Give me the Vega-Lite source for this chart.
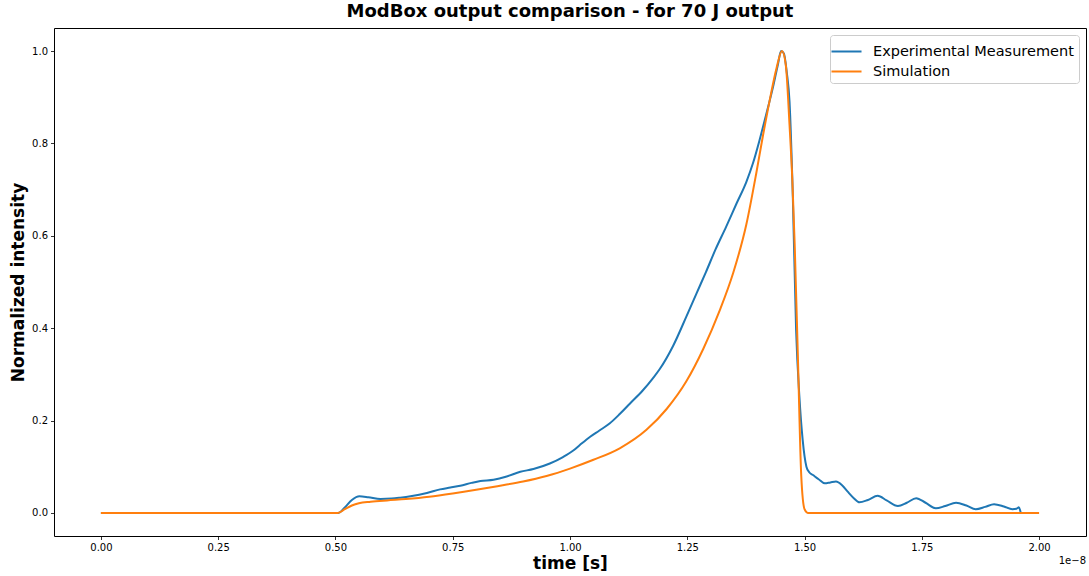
{
  "$schema": "https://vega.github.io/schema/vega-lite/v6.json",
  "width": 1032,
  "height": 508,
  "autosize": {"type": "none"},
  "padding": {"left": 54, "top": 28, "right": 3, "bottom": 40},
  "background": "white",
  "title": {
    "text": "ModBox output comparison - for 70 J output",
    "font": "DejaVu Sans",
    "fontSize": 18,
    "fontWeight": "bold",
    "color": "black",
    "anchor": "middle",
    "offset": 7
  },
  "config": {
    "view": {"stroke": "black", "strokeWidth": 1},
    "font": "DejaVu Sans",
    "axis": {
      "grid": false,
      "domain": false,
      "tickColor": "black",
      "tickSize": 3.5,
      "tickWidth": 0.8,
      "labelColor": "black",
      "labelFontSize": 10,
      "labelFont": "DejaVu Sans",
      "labelPadding": 3,
      "titleFont": "DejaVu Sans",
      "titleFontSize": 17,
      "titleFontWeight": "bold",
      "titleColor": "black"
    }
  },
  "datasets": {
    "curves": [
      {"t": 0, "v": 0, "s": "Experimental Measurement"},
      {"t": 0.5, "v": 0, "s": "Experimental Measurement"},
      {"t": 0.506, "v": 0, "s": "Experimental Measurement"},
      {"t": 0.52, "v": 0.012, "s": "Experimental Measurement"},
      {"t": 0.535, "v": 0.028, "s": "Experimental Measurement"},
      {"t": 0.551, "v": 0.036, "s": "Experimental Measurement"},
      {"t": 0.57, "v": 0.034, "s": "Experimental Measurement"},
      {"t": 0.596, "v": 0.030, "s": "Experimental Measurement"},
      {"t": 0.62, "v": 0.031, "s": "Experimental Measurement"},
      {"t": 0.638, "v": 0.033, "s": "Experimental Measurement"},
      {"t": 0.66, "v": 0.036, "s": "Experimental Measurement"},
      {"t": 0.695, "v": 0.043, "s": "Experimental Measurement"},
      {"t": 0.723, "v": 0.051, "s": "Experimental Measurement"},
      {"t": 0.745, "v": 0.055, "s": "Experimental Measurement"},
      {"t": 0.766, "v": 0.059, "s": "Experimental Measurement"},
      {"t": 0.79, "v": 0.065, "s": "Experimental Measurement"},
      {"t": 0.809, "v": 0.069, "s": "Experimental Measurement"},
      {"t": 0.837, "v": 0.072, "s": "Experimental Measurement"},
      {"t": 0.865, "v": 0.079, "s": "Experimental Measurement"},
      {"t": 0.894, "v": 0.089, "s": "Experimental Measurement"},
      {"t": 0.922, "v": 0.095, "s": "Experimental Measurement"},
      {"t": 0.957, "v": 0.107, "s": "Experimental Measurement"},
      {"t": 0.985, "v": 0.121, "s": "Experimental Measurement"},
      {"t": 1.007, "v": 0.135, "s": "Experimental Measurement"},
      {"t": 1.021, "v": 0.147, "s": "Experimental Measurement"},
      {"t": 1.043, "v": 0.165, "s": "Experimental Measurement"},
      {"t": 1.062, "v": 0.178, "s": "Experimental Measurement"},
      {"t": 1.085, "v": 0.194, "s": "Experimental Measurement"},
      {"t": 1.106, "v": 0.214, "s": "Experimental Measurement"},
      {"t": 1.128, "v": 0.237, "s": "Experimental Measurement"},
      {"t": 1.155, "v": 0.265, "s": "Experimental Measurement"},
      {"t": 1.177, "v": 0.292, "s": "Experimental Measurement"},
      {"t": 1.191, "v": 0.311, "s": "Experimental Measurement"},
      {"t": 1.22, "v": 0.362, "s": "Experimental Measurement"},
      {"t": 1.248, "v": 0.425, "s": "Experimental Measurement"},
      {"t": 1.27, "v": 0.476, "s": "Experimental Measurement"},
      {"t": 1.29, "v": 0.522, "s": "Experimental Measurement"},
      {"t": 1.31, "v": 0.570, "s": "Experimental Measurement"},
      {"t": 1.333, "v": 0.620, "s": "Experimental Measurement"},
      {"t": 1.355, "v": 0.67, "s": "Experimental Measurement"},
      {"t": 1.376, "v": 0.717, "s": "Experimental Measurement"},
      {"t": 1.39, "v": 0.757, "s": "Experimental Measurement"},
      {"t": 1.404, "v": 0.807, "s": "Experimental Measurement"},
      {"t": 1.42, "v": 0.87, "s": "Experimental Measurement"},
      {"t": 1.433, "v": 0.923, "s": "Experimental Measurement"},
      {"t": 1.443, "v": 0.97, "s": "Experimental Measurement"},
      {"t": 1.45, "v": 1.0, "s": "Experimental Measurement"},
      {"t": 1.456, "v": 0.995, "s": "Experimental Measurement"},
      {"t": 1.462, "v": 0.955, "s": "Experimental Measurement"},
      {"t": 1.468, "v": 0.89, "s": "Experimental Measurement"},
      {"t": 1.475, "v": 0.685, "s": "Experimental Measurement"},
      {"t": 1.482, "v": 0.396, "s": "Experimental Measurement"},
      {"t": 1.489, "v": 0.252, "s": "Experimental Measurement"},
      {"t": 1.496, "v": 0.158, "s": "Experimental Measurement"},
      {"t": 1.504, "v": 0.10, "s": "Experimental Measurement"},
      {"t": 1.51, "v": 0.088, "s": "Experimental Measurement"},
      {"t": 1.518, "v": 0.082, "s": "Experimental Measurement"},
      {"t": 1.53, "v": 0.073, "s": "Experimental Measurement"},
      {"t": 1.543, "v": 0.064, "s": "Experimental Measurement"},
      {"t": 1.555, "v": 0.066, "s": "Experimental Measurement"},
      {"t": 1.567, "v": 0.068, "s": "Experimental Measurement"},
      {"t": 1.58, "v": 0.06, "s": "Experimental Measurement"},
      {"t": 1.592, "v": 0.046, "s": "Experimental Measurement"},
      {"t": 1.605, "v": 0.032, "s": "Experimental Measurement"},
      {"t": 1.617, "v": 0.023, "s": "Experimental Measurement"},
      {"t": 1.635, "v": 0.028, "s": "Experimental Measurement"},
      {"t": 1.656, "v": 0.037, "s": "Experimental Measurement"},
      {"t": 1.675, "v": 0.027, "s": "Experimental Measurement"},
      {"t": 1.699, "v": 0.015, "s": "Experimental Measurement"},
      {"t": 1.718, "v": 0.022, "s": "Experimental Measurement"},
      {"t": 1.738, "v": 0.032, "s": "Experimental Measurement"},
      {"t": 1.758, "v": 0.022, "s": "Experimental Measurement"},
      {"t": 1.78, "v": 0.010, "s": "Experimental Measurement"},
      {"t": 1.80, "v": 0.015, "s": "Experimental Measurement"},
      {"t": 1.823, "v": 0.022, "s": "Experimental Measurement"},
      {"t": 1.845, "v": 0.016, "s": "Experimental Measurement"},
      {"t": 1.865, "v": 0.008, "s": "Experimental Measurement"},
      {"t": 1.885, "v": 0.013, "s": "Experimental Measurement"},
      {"t": 1.904, "v": 0.019, "s": "Experimental Measurement"},
      {"t": 1.925, "v": 0.014, "s": "Experimental Measurement"},
      {"t": 1.943, "v": 0.008, "s": "Experimental Measurement"},
      {"t": 1.952, "v": 0.009, "s": "Experimental Measurement"},
      {"t": 1.957, "v": 0.012, "s": "Experimental Measurement"},
      {"t": 1.961, "v": 0, "s": "Experimental Measurement"},
      {"t": 0, "v": 0, "s": "Simulation"},
      {"t": 0.5, "v": 0, "s": "Simulation"},
      {"t": 0.505, "v": 0, "s": "Simulation"},
      {"t": 0.52, "v": 0.008, "s": "Simulation"},
      {"t": 0.535, "v": 0.016, "s": "Simulation"},
      {"t": 0.55, "v": 0.021, "s": "Simulation"},
      {"t": 0.575, "v": 0.024, "s": "Simulation"},
      {"t": 0.61, "v": 0.027, "s": "Simulation"},
      {"t": 0.65, "v": 0.030, "s": "Simulation"},
      {"t": 0.7, "v": 0.035, "s": "Simulation"},
      {"t": 0.75, "v": 0.042, "s": "Simulation"},
      {"t": 0.8, "v": 0.050, "s": "Simulation"},
      {"t": 0.851, "v": 0.059, "s": "Simulation"},
      {"t": 0.9, "v": 0.068, "s": "Simulation"},
      {"t": 0.95, "v": 0.080, "s": "Simulation"},
      {"t": 1.0, "v": 0.096, "s": "Simulation"},
      {"t": 1.05, "v": 0.115, "s": "Simulation"},
      {"t": 1.106, "v": 0.140, "s": "Simulation"},
      {"t": 1.163, "v": 0.180, "s": "Simulation"},
      {"t": 1.206, "v": 0.225, "s": "Simulation"},
      {"t": 1.248, "v": 0.285, "s": "Simulation"},
      {"t": 1.284, "v": 0.355, "s": "Simulation"},
      {"t": 1.319, "v": 0.438, "s": "Simulation"},
      {"t": 1.348, "v": 0.520, "s": "Simulation"},
      {"t": 1.376, "v": 0.625, "s": "Simulation"},
      {"t": 1.397, "v": 0.735, "s": "Simulation"},
      {"t": 1.411, "v": 0.815, "s": "Simulation"},
      {"t": 1.426, "v": 0.895, "s": "Simulation"},
      {"t": 1.44, "v": 0.962, "s": "Simulation"},
      {"t": 1.452, "v": 1.0, "s": "Simulation"},
      {"t": 1.46, "v": 0.97, "s": "Simulation"},
      {"t": 1.468, "v": 0.84, "s": "Simulation"},
      {"t": 1.474, "v": 0.72, "s": "Simulation"},
      {"t": 1.479, "v": 0.58, "s": "Simulation"},
      {"t": 1.486, "v": 0.33, "s": "Simulation"},
      {"t": 1.493, "v": 0.08, "s": "Simulation"},
      {"t": 1.5, "v": 0.008, "s": "Simulation"},
      {"t": 1.507, "v": 0, "s": "Simulation"},
      {"t": 2.0, "v": 0, "s": "Simulation"}
    ],
    "note": [{"t": 2.1, "v": -0.05, "label": "1e−8"}]
  },
  "layer": [
    {
      "data": {"name": "curves"},
      "mark": {"type": "line", "strokeWidth": 2, "interpolate": "monotone", "clip": true},
      "encoding": {
        "x": {
          "field": "t",
          "type": "quantitative",
          "scale": {"domain": [-0.1, 2.1], "nice": false, "zero": false},
          "axis": {
            "title": "time [s]",
            "values": [0, 0.25, 0.5, 0.75, 1.0, 1.25, 1.5, 1.75, 2.0],
            "format": ".2f",
            "titlePadding": 3
          }
        },
        "y": {
          "field": "v",
          "type": "quantitative",
          "scale": {"domain": [-0.05, 1.05], "nice": false, "zero": false},
          "axis": {
            "title": "Normalized intensity",
            "values": [0, 0.2, 0.4, 0.6, 0.8, 1.0],
            "format": ".1f",
            "titlePadding": 4
          }
        },
        "color": {
          "field": "s",
          "type": "nominal",
          "sort": ["Experimental Measurement", "Simulation"],
          "scale": {"domain": ["Experimental Measurement", "Simulation"], "range": ["#1f77b4", "#ff7f0e"]},
          "legend": {
            "title": null,
            "orient": "top-right",
            "offset": 7,
            "symbolType": "M-1.43,0H1.43",
            "symbolStrokeWidth": 2,
            "symbolSize": 441,
            "labelFontSize": 14.5,
            "labelFont": "DejaVu Sans",
            "labelColor": "black",
            "labelLimit": 400,
            "labelOffset": 15,
            "rowPadding": 2,
            "padding": 5,
            "strokeColor": "#cccccc",
            "fillColor": "white",
            "cornerRadius": 3
          }
        }
      }
    },
    {
      "data": {"name": "note"},
      "mark": {"type": "text", "align": "right", "baseline": "top", "dy": 20, "fontSize": 10, "color": "black", "font": "DejaVu Sans"},
      "encoding": {
        "x": {"field": "t", "type": "quantitative"},
        "y": {"field": "v", "type": "quantitative"},
        "text": {"field": "label"}
      }
    }
  ]
}
